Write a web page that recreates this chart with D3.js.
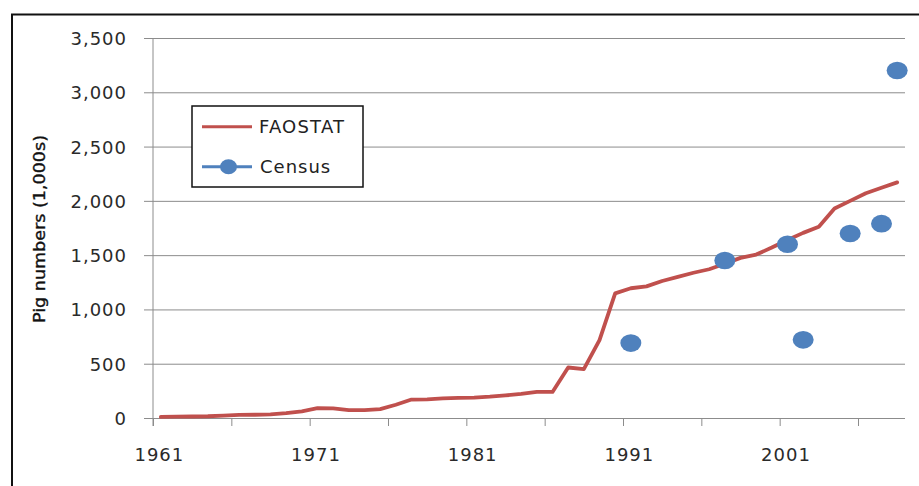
<!DOCTYPE html>
<html>
<head>
<meta charset="utf-8">
<script src="https://cdn.jsdelivr.net/npm/d3@7"></script>
<style>
  body { margin: 0; background: #fff; }
  text { font-family: "DejaVu Sans", sans-serif; }
</style>
</head>
<body>
<svg width="919" height="486"></svg>
<script>
// FAOSTAT yearly pig numbers (1,000s), 1961-2008
var years = d3.range(1961, 2009);
var faostat = [10, 12, 14, 16, 22, 28, 30, 34, 45, 62,
               90, 88, 72, 72, 82, 122, 170, 172, 180, 185,
               188, 196, 208, 222, 240, 240, 465, 450, 718, 1148,
               1195, 1212, 1262, 1300, 1338, 1370, 1420, 1475, 1505, 1570,
               1640, 1705, 1762, 1930, 2000, 2070, 2120, 2170];
// census points
var censusYears = [1991, 1997, 2001, 2002, 2005, 2007, 2008];
var censusValues = [690, 1450, 1600, 720, 1700, 1790, 3200];
var yTicks = [0, 500, 1000, 1500, 2000, 2500, 3000, 3500];
var xLabelYears = [1961, 1971, 1981, 1991, 2001];
var xTickBounds = d3.range(1960.5, 2008, 5);

var svg = d3.select("svg");
var red = "#C0504D", blue = "#4F81BD", grid = "#8c8c8c";

// outer frame
svg.append("rect").attr("x", 12).attr("y", 14.5).attr("width", 1000).attr("height", 1000)
  .attr("fill", "none").attr("stroke", "#111").attr("stroke-width", 2);

// year centre -> x ; categories take one band each
var x = d3.scaleLinear().domain([1960.5, 2008.5]).range([153, 905]);
var y = d3.scaleLinear().domain([0, 3500]).range([418, 38]);

// gridlines + y axis
var gy = svg.append("g").attr("transform", "translate(153,0)")
  .call(d3.axisLeft(y).tickValues(yTicks).tickSize(9).tickPadding(17)
    .tickFormat(d3.format(",")));
gy.select(".domain").attr("stroke", grid).attr("d", "M0,38V426");
gy.selectAll(".tick line").attr("stroke", grid);
gy.selectAll(".tick").append("line").attr("x1", 0).attr("x2", 905 - 153)
  .attr("stroke", grid);
gy.selectAll("text").attr("font-size", 18).attr("letter-spacing", "1px")
  .attr("fill", "#2a2a2a").attr("dy", "0.36em");

// x axis: tick marks between categories, labels every 10 years
var gx = svg.append("g").attr("transform", "translate(0,418)")
  .call(d3.axisBottom(x).tickValues(xTickBounds).tickSize(8).tickFormat(""));
gx.select(".domain").remove();
gx.selectAll(".tick line").attr("stroke", grid);
var gl = svg.append("g").attr("transform", "translate(0,418)")
  .call(d3.axisBottom(x).tickValues(xLabelYears).tickSize(0).tickPadding(30)
    .tickFormat(d3.format("d")));
gl.select(".domain").remove();
gl.selectAll("text").attr("font-size", 18).attr("letter-spacing", "1px")
  .attr("fill", "#2a2a2a").attr("dx", "-2px");

// axis title
svg.append("text")
  .attr("transform", "translate(45,229) rotate(-90)")
  .attr("text-anchor", "middle")
  .attr("font-size", 15)
  .attr("fill", "#111").attr("stroke", "#111").attr("stroke-width", 0.35)
  .attr("textLength", 188).attr("lengthAdjust", "spacingAndGlyphs")
  .text("Pig numbers (1,000s)");

// FAOSTAT line
var line = d3.line().x(function(d, i){ return x(years[i]); }).y(function(d){ return y(d); });
svg.append("path").datum(faostat)
  .attr("d", line).attr("fill", "none").attr("stroke", red)
  .attr("stroke-width", 3.8).attr("stroke-linejoin", "round").attr("stroke-linecap", "round");

// census markers
svg.selectAll(".census").data(censusValues).enter().append("ellipse")
  .attr("class", "census")
  .attr("cx", function(d, i){ return x(censusYears[i]); })
  .attr("cy", function(d){ return y(d); })
  .attr("rx", 10.5).attr("ry", 8.8)
  .attr("fill", blue);

// legend
var lg = svg.append("g");
lg.append("rect").attr("x", 192).attr("y", 106).attr("width", 171).attr("height", 81)
  .attr("fill", "#fff").attr("stroke", "#111").attr("stroke-width", 1.5);
lg.append("line").attr("x1", 202).attr("x2", 252).attr("y1", 126.7).attr("y2", 126.7)
  .attr("stroke", red).attr("stroke-width", 3);
lg.append("text").attr("x", 259).attr("y", 133.3).attr("font-size", 18)
  .attr("letter-spacing", "1.2px").attr("fill", "#222").text("FAOSTAT");
lg.append("line").attr("x1", 202).attr("x2", 252).attr("y1", 166.7).attr("y2", 166.7)
  .attr("stroke", blue).attr("stroke-width", 3);
lg.append("ellipse").attr("cx", 228.5).attr("cy", 166.7).attr("rx", 8.5).attr("ry", 7.5)
  .attr("fill", blue);
lg.append("text").attr("x", 260).attr("y", 173.3).attr("font-size", 18)
  .attr("letter-spacing", "1px").attr("fill", "#222").text("Census");
</script>
</body>
</html>
